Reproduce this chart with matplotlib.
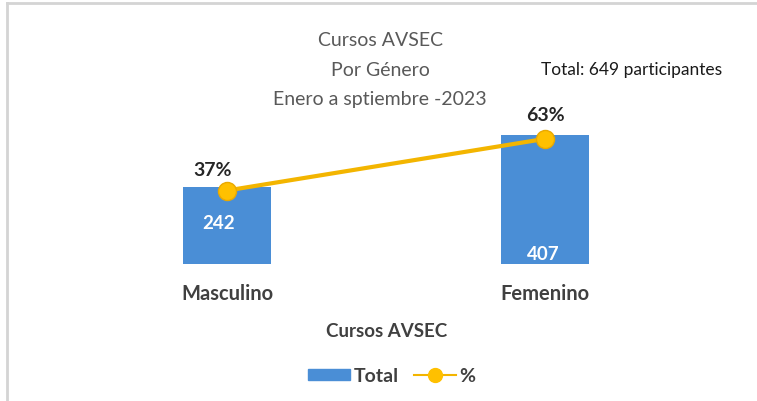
import matplotlib.pyplot as plt
from matplotlib.patches import Rectangle
from matplotlib.lines import Line2D

# Data
categorias = ['Masculino', 'Femenino']
totales = [242, 407]
porcentajes = [0.37, 0.63]
etiquetas_pct = ['37%', '63%']
titulo = ['Cursos AVSEC', 'Por Género', 'Enero a sptiembre -2023']
nota_total = 'Total: 649 participantes'
eje_x = 'Cursos AVSEC'

plt.rcParams['font.family'] = ['Lato', 'DejaVu Sans']

azul = '#4a8ed6'
oro = '#f3b500'
gris = '#595959'

fig = plt.figure(figsize=(7.57, 4.02), dpi=100)
ax = fig.add_axes([68 / 757, (402 - 265) / 402, 636 / 757, 143 / 402])
ax2 = ax.twinx()

x = list(range(len(categorias)))
bars = ax.bar(x, totales, width=0.274, color=azul, zorder=2)
ax.set_xlim(-0.5, 1.5)
ax.set_ylim(0, 450)

# bar labels (white, bold)
ax.text(x[0] - 0.025, totales[0] - 110, str(totales[0]), color='white',
        fontsize=13.5, fontweight='bold', ha='center', va='center')
ax.text(x[1] - 0.006, 32, str(totales[1]), color='white',
        fontsize=13.5, fontweight='bold', ha='center', va='center')

# percentage line
ax2.plot(x, porcentajes, color=oro, lw=3, marker='o', markersize=13,
         markerfacecolor='#ffc000', markeredgecolor='#eaa900', zorder=3)
ax2.set_ylim(0, 0.72)
ax2.text(x[0] - 0.045, porcentajes[0] + 0.105, etiquetas_pct[0], fontsize=14,
         fontweight='bold', color='#262626', ha='center', va='center')
ax2.text(x[1], porcentajes[1] + 0.125, etiquetas_pct[1], fontsize=14,
         fontweight='bold', color='#262626', ha='center', va='center')

for a in (ax, ax2):
    a.set_yticks([])
    for s in a.spines.values():
        s.set_visible(False)
ax.set_xticks(x)
ax.set_xticklabels(categorias, fontsize=14.5, fontweight='bold', color='#404040')
ax.tick_params(axis='x', length=0, pad=14)

# axis title and legend (figure coords)
fig.text(387 / 757, 1 - 332 / 402, eje_x, fontsize=13.5, fontweight='bold',
         color='#404040', ha='center', va='center')
handles = [Rectangle((0, 0), 1, 1, color=azul),
           Line2D([], [], color=oro, lw=1.5, marker='o', markersize=10,
                  markerfacecolor='#ffc000', markeredgecolor='#ffc000')]
leg = fig.legend(handles, ['Total', '%'], loc='center',
                 bbox_to_anchor=(392 / 757, 1 - 377 / 402), ncol=2, frameon=False,
                 handlelength=2.15, handleheight=0.5, handletextpad=0.2,
                 columnspacing=0.75, prop={'weight': 'bold', 'size': 14})
for t in leg.get_texts():
    t.set_color('#404040')

# title lines
for i, linea in enumerate(titulo):
    fig.text(380 / 757, 1 - (40 + 30 * i) / 402, linea, fontsize=14,
             color=gris, ha='center', va='center')
fig.text(632 / 757, 1 - 70 / 402, nota_total, fontsize=12.5,
         color='#1a1a1a', ha='center', va='center')

# light frame at top and left
fig.add_artist(Line2D([7 / 757, 7 / 757], [0, 1 - 4 / 402], color='#d4d4d4', lw=2,
                      transform=fig.transFigure))
fig.add_artist(Line2D([7 / 757, 1], [1 - 4 / 402, 1 - 4 / 402], color='#d4d4d4', lw=2,
                      transform=fig.transFigure))

fig.savefig('out.png', dpi=100)
